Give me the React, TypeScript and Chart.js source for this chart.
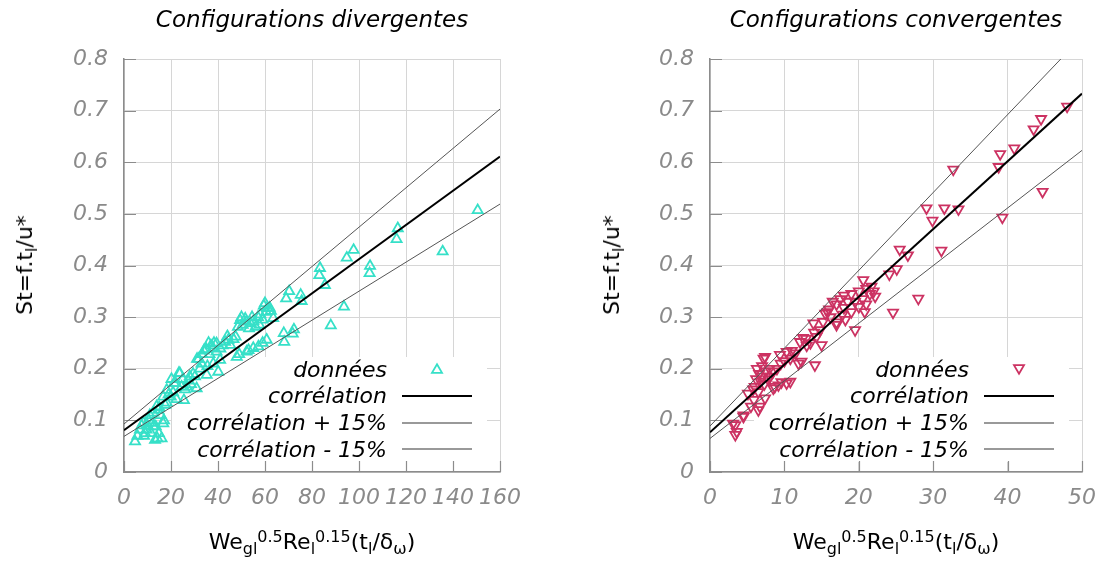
import React, { useEffect, useRef } from 'react';
import { Chart, registerables } from 'chart.js';

Chart.register(...registerables);

// ---------- data ----------
const yTickLabels = ['0', '0.1', '0.2', '0.3', '0.4', '0.5', '0.6', '0.7', '0.8'];
const legendLabels = ['données', 'corrélation', 'corrélation + 15%', 'corrélation - 15%'];

// Configurations divergentes
const divX = [
  150.5, 116.5, 116, 135.6, 97.7, 94.8, 104.7, 104.5, 83.4, 83.1, 85.5, 93.6, 88, 70.3, 69, 75.2, 75.6, 68, 72.3, 71.8, 68.2,
  60, 59.5, 61, 62.5, 63.5, 60.5, 58, 57, 62, 59,
  60.7, 57.2, 55, 52.2, 48, 49, 53, 59,
  49.4, 51.6, 53.8, 56, 53.2, 57.6, 50.5, 48.5, 52, 55, 50, 54.5,
  44.4, 46.6, 45.2, 43, 42, 47.5, 44, 41,
  39.4, 37.9, 35, 33.2, 31.8, 36.4, 39.4, 40.9, 40.1, 35.2, 32.3, 30.2, 31.1, 34, 38.3, 37, 36, 33, 38, 35.5, 29.4,
  27.4, 26.7, 30.9, 23.8, 20.2, 22, 25, 28, 24.5, 21.3, 23.4, 25.5, 22.3, 20.9, 26, 28.5,
  18.2, 16.7, 13.9, 14.6, 18.2, 19.9, 16.7, 16, 13.2, 12.5, 9.6, 17, 15.6, 13.5, 14.2, 12.1, 11, 12.5, 15, 17.5, 19, 10.5, 11.5, 14.8,
  6.8, 4.7, 8.2, 5.7, 9, 7.5, 8.5, 10,
];
const divY = [
  0.507, 0.472, 0.451, 0.427, 0.43, 0.415, 0.399, 0.385, 0.395, 0.381, 0.362, 0.32, 0.284, 0.35, 0.336, 0.343, 0.331, 0.269, 0.276, 0.268, 0.252,
  0.327, 0.322, 0.318, 0.312, 0.298, 0.31, 0.305, 0.3, 0.318, 0.295,
  0.256, 0.243, 0.24, 0.233, 0.223, 0.228, 0.236, 0.25,
  0.294, 0.297, 0.288, 0.281, 0.278, 0.285, 0.285, 0.281, 0.291, 0.292, 0.3, 0.3,
  0.256, 0.257, 0.246, 0.252, 0.245, 0.262, 0.263, 0.239,
  0.249, 0.24, 0.238, 0.228, 0.219, 0.228, 0.233, 0.217, 0.194, 0.188, 0.2, 0.185, 0.219, 0.235, 0.25, 0.245, 0.25, 0.21, 0.21, 0.205, 0.19,
  0.177, 0.165, 0.162, 0.191, 0.18, 0.172, 0.18, 0.185, 0.165, 0.172, 0.192, 0.139, 0.141, 0.154, 0.16, 0.17,
  0.159, 0.146, 0.127, 0.12, 0.134, 0.146, 0.094, 0.065, 0.062, 0.088, 0.082, 0.1, 0.11, 0.088, 0.065, 0.095, 0.11, 0.115, 0.125, 0.13, 0.15, 0.1, 0.075, 0.075,
  0.082, 0.059, 0.095, 0.07, 0.075, 0.09, 0.07, 0.09,
];
const divLineX = [0, 160];
const divCorr = [0.081, 0.611];
const divPlus = [0.093, 0.703];
const divMinus = [0.069, 0.519];
const divXTicks = [0, 20, 40, 60, 80, 100, 120, 140, 160];

// Configurations convergentes
const convX = [
  48.0, 44.5, 43.5, 40.9, 39, 38.8, 44.7, 39.3, 32.7, 29.1, 31.5, 33.4, 29.9, 31.1, 25.5, 26.6, 25.1, 24.1, 28, 24.6,
  20.6, 21.7, 21, 20, 19, 18, 17.5, 18.5, 19.5, 20.5, 21.5, 22, 17, 18, 19, 20, 21, 17.8, 19.5, 16.5, 16, 17, 18.2, 20.8, 22.2,
  15.5, 15.2, 17, 13.9, 14.3, 12.9, 12.1, 15, 14, 15.8, 13.5, 16.2, 12.5, 14.8, 13, 12.3, 14.1, 11.9,
  10.3, 9.4, 10.8, 10, 9.5, 11, 10.3, 8.5, 9.2, 8.7, 9.6, 10.8, 11.5, 9, 8.5,
  7.4, 7.2, 6.3, 6.6, 7, 7.5, 8, 6.8, 7.3, 6, 6.5, 7.8, 8.1, 5.1, 5.9, 6.5, 5.5, 6.7, 7.4, 7, 6.2, 5.8,
  4.5, 4.5, 3.4, 3.1, 3.6, 3.4,
];
const convY = [
  0.708, 0.684, 0.664, 0.627, 0.616, 0.591, 0.543, 0.493, 0.586, 0.511, 0.511, 0.509, 0.487, 0.429, 0.431, 0.42, 0.393, 0.383, 0.336, 0.309,
  0.372, 0.359, 0.355, 0.35, 0.345, 0.342, 0.335, 0.33, 0.33, 0.335, 0.345, 0.35, 0.325, 0.318, 0.31, 0.32, 0.325, 0.305, 0.275, 0.33, 0.315, 0.29, 0.295, 0.31, 0.34,
  0.307, 0.291, 0.285, 0.288, 0.262, 0.258, 0.252, 0.246, 0.27, 0.31, 0.25, 0.3, 0.26, 0.275, 0.245, 0.214, 0.207, 0.21,
  0.233, 0.227, 0.22, 0.215, 0.21, 0.235, 0.172, 0.162, 0.168, 0.165, 0.174, 0.175, 0.23, 0.2, 0.195,
  0.223, 0.22, 0.2, 0.19, 0.185, 0.195, 0.2, 0.175, 0.17, 0.165, 0.155, 0.18, 0.185, 0.152, 0.14, 0.12, 0.127, 0.127, 0.143, 0.205, 0.18, 0.16,
  0.107, 0.11, 0.091, 0.094, 0.078, 0.072,
];
const convLineX = [0, 50];
const convCorr = [0.077, 0.733];
const convPlus = [0.089, 0.843];
const convMinus = [0.065, 0.623];
const convXTicks = [0, 10, 20, 30, 40, 50];

// ---------- styles ----------
const FONT = '"DejaVu Sans", Verdana, sans-serif';
const tickColor = '#8a8a8a';
const gridColor = '#d6d6d6';
const axisColor = '#8c8c8c';
const divColor = '#36e0c8';
const convColor = '#cc3262';

function drawTriangle(ctx: CanvasRenderingContext2D, x: number, y: number, r: number, down: boolean) {
  const s = down ? -1 : 1;
  ctx.beginPath();
  ctx.moveTo(x, y - s * r);
  ctx.lineTo(x + (Math.sqrt(3) / 2) * r, y + s * r / 2);
  ctx.lineTo(x - (Math.sqrt(3) / 2) * r, y + s * r / 2);
  ctx.closePath();
  ctx.stroke();
}

type PanelProps = {
  left: number;
  width: number;
  yWidth: number;
  padRight: number;
  xs: number[];
  ys: number[];
  lineX: number[];
  corr: number[];
  plus: number[];
  minus: number[];
  xTicks: number[];
  color: string;
  down: boolean;
};

function Panel(p: PanelProps) {
  const ref = useRef<HTMLCanvasElement>(null);
  useEffect(() => {
    const canvas = ref.current;
    if (!canvas) return;
    const pts = p.xs.map((x, i) => ({ x, y: p.ys[i] }));
    const line = (vals: number[]) => p.lineX.map((x, i) => ({ x, y: vals[i] }));
    const xMin = p.xTicks[0];
    const xMax = p.xTicks[p.xTicks.length - 1];
    const xStep = p.xTicks[1] - p.xTicks[0];

    const keyPlugin = {
      id: 'gnuKey',
      beforeDatasetsDraw(chart: any) {
        const { ctx, chartArea: a } = chart;
        ctx.save();
        ctx.fillStyle = '#ffffff';
        ctx.fillRect(a.right - 328, a.bottom - 115, 315, 105);
        ctx.strokeStyle = axisColor;
        ctx.lineWidth = 1.2;
        const xs = chart.scales.x;
        const ys = chart.scales.y;
        ctx.beginPath();
        xs.ticks.forEach((t: any) => {
          const px = Math.round(xs.getPixelForValue(t.value)) + 0.5;
          ctx.moveTo(px, a.bottom);
          ctx.lineTo(px, a.bottom - 11);
        });
        ys.ticks.forEach((t: any) => {
          const py = Math.round(ys.getPixelForValue(t.value)) + 0.5;
          ctx.moveTo(a.left, py);
          ctx.lineTo(a.left + 12, py);
        });
        ctx.stroke();
        ctx.restore();
      },
      afterDatasetsDraw(chart: any) {
        const { ctx, chartArea: a } = chart;
        ctx.save();
        ctx.font = `italic 22px ${FONT}`;
        ctx.fillStyle = '#000';
        ctx.textAlign = 'right';
        ctx.textBaseline = 'alphabetic';
        const baselines = [a.bottom - 95, a.bottom - 69, a.bottom - 42, a.bottom - 15];
        const centers = [a.bottom - 103, a.bottom - 76, a.bottom - 49, a.bottom - 23];
        legendLabels.forEach((t, i) => {
          ctx.fillText(t, a.right - 113, baselines[i]);
        });
        ctx.strokeStyle = p.color;
        ctx.lineWidth = 1.8;
        drawTriangle(ctx, a.right - 63, centers[0] + (p.down ? -1 : 1), 5.8, p.down);
        const samples = [
          { c: '#000', w: 2 },
          { c: '#777', w: 1.3 },
          { c: '#777', w: 1.3 },
        ];
        samples.forEach((s, i) => {
          ctx.strokeStyle = s.c;
          ctx.lineWidth = s.w;
          ctx.beginPath();
          ctx.moveTo(a.right - 98, centers[i + 1]);
          ctx.lineTo(a.right - 28, centers[i + 1]);
          ctx.stroke();
        });
        ctx.restore();
      },
    };

    const tickFont = { family: FONT, size: 22, style: 'italic' as const };

    const chart = new Chart(canvas, {
      type: 'scatter',
      data: {
        datasets: [
          {
            label: legendLabels[0],
            data: pts,
            showLine: false,
            pointStyle: 'triangle',
            pointRotation: p.down ? 180 : 0,
            pointRadius: 5.8,
            pointBorderColor: p.color,
            pointBackgroundColor: 'rgba(0,0,0,0)',
            pointBorderWidth: 1.8,
            order: 4,
          } as any,
          {
            label: legendLabels[1],
            data: line(p.corr),
            showLine: true,
            pointRadius: 0,
            borderColor: '#000',
            borderWidth: 2,
            order: 1,
          },
          {
            label: legendLabels[2],
            data: line(p.plus),
            showLine: true,
            pointRadius: 0,
            borderColor: '#555',
            borderWidth: 1,
            order: 2,
          },
          {
            label: legendLabels[3],
            data: line(p.minus),
            showLine: true,
            pointRadius: 0,
            borderColor: '#555',
            borderWidth: 1,
            order: 3,
          },
        ],
      },
      options: {
        responsive: false,
        maintainAspectRatio: false,
        animation: false,
        events: [],
        layout: { padding: { left: 0, top: 59, right: p.padRight, bottom: 41 } },
        plugins: {
          legend: { display: false },
          tooltip: { enabled: false },
          title: { display: false },
        },
        scales: {
          x: {
            type: 'linear',
            min: xMin,
            max: xMax,
            ticks: {
              stepSize: xStep,
              autoSkip: false,
              maxRotation: 0,
              color: tickColor,
              font: tickFont,
              padding: 13,
              callback: (v: any) => {
                const i = p.xTicks.indexOf(Number(v));
                return i >= 0 ? String(p.xTicks[i]) : '';
              },
            },
            grid: { color: gridColor, drawTicks: false, lineWidth: 1 },
            border: { display: true, color: axisColor, width: 1.5 },
            afterFit: (s: any) => {
              s.height = 50;
            },
          },
          y: {
            type: 'linear',
            min: 0,
            max: 0.8,
            ticks: {
              stepSize: 0.1,
              color: tickColor,
              font: tickFont,
              padding: 16,
              callback: (_v: any, i: number) => yTickLabels[i],
            },
            grid: { color: gridColor, drawTicks: false, lineWidth: 1 },
            border: { display: true, color: axisColor, width: 1.5 },
            afterFit: (s: any) => {
              s.width = p.yWidth;
            },
          },
        },
      },
      plugins: [keyPlugin],
    });
    return () => chart.destroy();
  }, []);
  return (
    <canvas
      ref={ref}
      width={p.width}
      height={563}
      style={{ position: 'absolute', left: p.left, top: 0, width: p.width, height: 563, display: 'block' }}
    />
  );
}

const subStyle: React.CSSProperties = { fontSize: 16, lineHeight: 0, verticalAlign: '-5px' };
const supStyle: React.CSSProperties = { fontSize: 16, lineHeight: 0, verticalAlign: '7px' };

function XTitle({ cx }: { cx: number }) {
  return (
    <div
      style={{
        position: 'absolute',
        left: cx,
        top: 531,
        transform: 'translateX(-50%)',
        fontFamily: FONT,
        fontSize: 22,
        lineHeight: '22px',
        whiteSpace: 'nowrap',
        color: '#000',
      }}
    >
      We<span style={subStyle}>gl</span>
      <span style={supStyle}>0.5</span>Re<span style={subStyle}>l</span>
      <span style={supStyle}>0.15</span>(t<span style={subStyle}>l</span>/δ<span style={subStyle}>ω</span>)
    </div>
  );
}

function YTitle({ cx }: { cx: number }) {
  return (
    <div
      style={{
        position: 'absolute',
        left: cx,
        top: 265,
        transform: 'translate(-50%, -50%) rotate(-90deg)',
        fontFamily: FONT,
        fontSize: 22,
        lineHeight: '22px',
        whiteSpace: 'nowrap',
        color: '#000',
      }}
    >
      St=f.t<span style={subStyle}>l</span>/u*
    </div>
  );
}

function Title({ cx, text }: { cx: number; text: string }) {
  return (
    <div
      style={{
        position: 'absolute',
        left: cx,
        top: 8,
        transform: 'translateX(-50%)',
        fontFamily: FONT,
        fontSize: 23,
        fontStyle: 'italic',
        lineHeight: '23px',
        whiteSpace: 'nowrap',
        color: '#000',
      }}
    >
      {text}
    </div>
  );
}

export default function App() {
  return (
    <div style={{ position: 'absolute', left: 0, top: 0, width: 1109, height: 563, background: '#fff', overflow: 'hidden' }}>
      <Panel
        left={0}
        width={555}
        yWidth={124}
        padRight={55}
        xs={divX}
        ys={divY}
        lineX={divLineX}
        corr={divCorr}
        plus={divPlus}
        minus={divMinus}
        xTicks={divXTicks}
        color={divColor}
        down={false}
      />
      <Panel
        left={555}
        width={554}
        yWidth={155}
        padRight={27}
        xs={convX}
        ys={convY}
        lineX={convLineX}
        corr={convCorr}
        plus={convPlus}
        minus={convMinus}
        xTicks={convXTicks}
        color={convColor}
        down={true}
      />
      <Title cx={312} text="Configurations divergentes" />
      <Title cx={896} text="Configurations convergentes" />
      <YTitle cx={25} />
      <YTitle cx={612} />
      <XTitle cx={312} />
      <XTitle cx={896} />
    </div>
  );
}
